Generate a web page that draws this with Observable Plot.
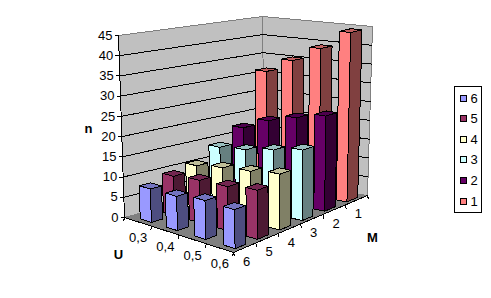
<!DOCTYPE html>
<html><head><meta charset="utf-8">
<script src="https://cdn.jsdelivr.net/npm/d3@7"></script>
<script src="https://cdn.jsdelivr.net/npm/@observablehq/plot@0.6"></script>
<style>html,body{margin:0;padding:0;background:#fff}svg{display:block}</style>
</head><body><div id="chart"></div>
<script>
// Data
const uLabels = ["0,3","0,4","0,5","0,6"];
const mLabels = ["6","5","4","3","2","1"];
const zTicks = [0,5,10,15,20,25,30,35,40,45];
const nM1 = [31.4,35.2,39.3,44.4];
const nM2 = [17.7,20.7,22.7,24.4];
const nM3 = [14.1,14.8,16.2,17.7];
const nM4 = [10.9,11.9,12.7,13.7];
const nM5 = [9.8,10.5,10.8,11.8];
const nM6 = [8.2,8.3,9.3,9.2];
const seriesByM = {"1":nM1,"2":nM2,"3":nM3,"4":nM4,"5":nM5,"6":nM6};

// Palette: [left face, right face, top]
const palette = {
  "1":["#FF8080","#804040","#BF6060"],
  "2":["#660066","#330033","#4D004D"],
  "3":["#CCFFFF","#668080","#99BFBF"],
  "4":["#FFFFCC","#808066","#BFBF99"],
  "5":["#993366","#4D1A33","#732650"],
  "6":["#9999FF","#4D4D80","#7373BF"]
};

// Box layout: corners L (u0,v0), F (u1,v0), R (u1,v1), B (u0,v1)
function bilinear([L,F,R,B]){
  return (u,v)=>[0,1].map(k=>(1-u)*(1-v)*L[k]+u*(1-v)*F[k]+u*v*R[k]+(1-u)*v*B[k]);
}
const floorH = bilinear([[124,217],[233,252],[367,195],[264,179]]);
const topH = bilinear([[118,35],[230,60],[372,26],[262,16]]);
const zMax = 45;
function project(u,v,z){
  const f=floorH(u,v),t=topH(u,v),k=z/zMax;
  return [f[0]+(t[0]-f[0])*k,f[1]+(t[1]-f[1])*k];
}
const uCenters=[0.14,0.38,0.64,0.91];

// Build polygons
const polys=[];
function addPoly(id,fill,pts,stroke){
  const closed=[...pts,pts[0]];
  closed.forEach(p=>polys.push({x:p[0],y:p[1],id,fill,stroke}));
}
addPoly("floor","#808080",[project(0,0,0),project(1,0,0),project(1,1,0),project(0,1,0)],"#808080");
addPoly("wallL","#C0C0C0",[project(0,0,0),project(0,1,0),project(0,1,zMax),project(0,0,zMax)],"#808080");
addPoly("wallR","#C0C0C0",[project(0,1,0),project(1,1,0),project(1,1,zMax),project(0,1,zMax)],"#808080");

const HU=0.205/uLabels.length, HV=0.24/mLabels.length;
["1","2","3","4","5","6"].forEach(m=>{
  const vals=seriesByM[m];
  const j=mLabels.indexOf(m);
  const cols=palette[m];
  vals.forEach((val,i)=>{
    const cu=uCenters[i], cv=(j+0.5)/mLabels.length;
    const u0=cu-HU,u1=cu+HU,v0=cv-HV,v1=cv+HV;
    const id=`bar-${m}-${i}`;
    addPoly(id+"a",cols[0],[project(u0,v0,0),project(u1,v0,0),project(u1,v0,val),project(u0,v0,val)],"#000");
    addPoly(id+"b",cols[1],[project(u1,v0,0),project(u1,v1,0),project(u1,v1,val),project(u1,v0,val)],"#000");
    addPoly(id+"c",cols[2],[project(u0,v0,val),project(u1,v0,val),project(u1,v1,val),project(u0,v1,val)],"#000");
  });
});

// Gridlines, axes
const grid=[];
zTicks.filter(z=>z>0&&z<zMax).forEach(z=>{
  [[0,0],[0,1],[1,1]].forEach(p=>{const q=project(p[0],p[1],z);grid.push({x:q[0],y:q[1],z});});
});
const axisLines=[];
function seg(id,a,b){axisLines.push({x1:a[0],y1:a[1],x2:b[0],y2:b[1],id});}
seg("z",project(0,0,0),project(0,0,zMax));
seg("u",project(0,0,0),project(1,0,0));
seg("m",project(1,0,0),project(1,1,0));
zTicks.forEach(z=>{const p=project(0,0,z);seg("zt",[p[0]-4,p[1]],p);});
d3.range(uLabels.length+1).forEach(i=>{const p=project(i/uLabels.length,0,0);seg("ut",p,[p[0]-1,p[1]+4]);});
d3.range(mLabels.length+1).forEach(j=>{const p=project(1,j/mLabels.length,0);seg("mt",p,[p[0]+1,p[1]+4]);});

const zText=zTicks.map(z=>{const p=project(0,0,z);return {x:p[0]-6,y:p[1],t:String(z)};});
const uText=uLabels.map((t,i)=>{const p=project((i+0.5)/uLabels.length,0,0);return {x:p[0],y:p[1]+16,t};});
const mText=mLabels.map((t,j)=>{const p=project(1,(j+0.5)/mLabels.length,0);return {x:p[0]+2,y:p[1]+14,t};});
const axisTitles=[{x:88,y:128,t:"n"},{x:118,y:254,t:"U"},{x:372,y:237,t:"M"}];

// Legend
const legendOrder=["6","5","4","3","2","1"];
const legendBox={x1:454,x2:481,y1:86,y2:212};
const legendRow=(i)=>98+i*20.6;
const legendRows=legendOrder.map((m,i)=>({m,y:legendRow(i),x:470,fill:palette[m][0]}));

const font="Liberation Sans, Arial, sans-serif";
const textOpts={text:"t",fontFamily:font,fontSize:13,fill:"#000"};
const crisp={shapeRendering:"crispEdges"};
const plot=Plot.plot({
  width:491,height:298,margin:0,
  x:{domain:[0,491],range:[0,491],axis:null},
  y:{domain:[0,298],range:[0,298],axis:null},
  color:{type:"identity"},
  marks:[
    Plot.line(polys.filter(p=>!p.id.startsWith("bar")),{x:"x",y:"y",z:"id",fill:"fill",stroke:"stroke",strokeWidth:1,curve:"linear",...crisp}),
    Plot.line(grid,{x:"x",y:"y",z:"z",stroke:"#000",strokeWidth:1,...crisp}),
    Plot.link(axisLines,{x1:"x1",y1:"y1",x2:"x2",y2:"y2",stroke:"#000",strokeWidth:1,...crisp}),
    Plot.line(polys.filter(p=>p.id.startsWith("bar")),{x:"x",y:"y",z:"id",fill:"fill",stroke:"stroke",strokeWidth:1,strokeLinejoin:"miter",...crisp}),
    Plot.text(zText,{x:"x",y:"y",...textOpts,textAnchor:"end"}),
    Plot.text(uText,{x:"x",y:"y",...textOpts}),
    Plot.text(mText,{x:"x",y:"y",...textOpts}),
    Plot.text(axisTitles,{x:"x",y:"y",...textOpts,fontWeight:"bold"}),
    Plot.rect([legendBox],{x1:"x1",x2:"x2",y1:"y1",y2:"y2",fill:"#fff",stroke:"#000",strokeWidth:1,...crisp}),
    Plot.rect(legendRows,{x1:d=>d.x-10,x2:d=>d.x-4,y1:d=>d.y-3,y2:d=>d.y+3,fill:"fill",stroke:"#000",strokeWidth:1,...crisp}),
    Plot.text(legendRows,{x:"x",y:"y",text:"m",fontFamily:font,fontSize:13,fill:"#000",textAnchor:"start"})
  ]
});
plot.style.background="#fff";
document.getElementById("chart").appendChild(plot);
</script>
</body></html>
